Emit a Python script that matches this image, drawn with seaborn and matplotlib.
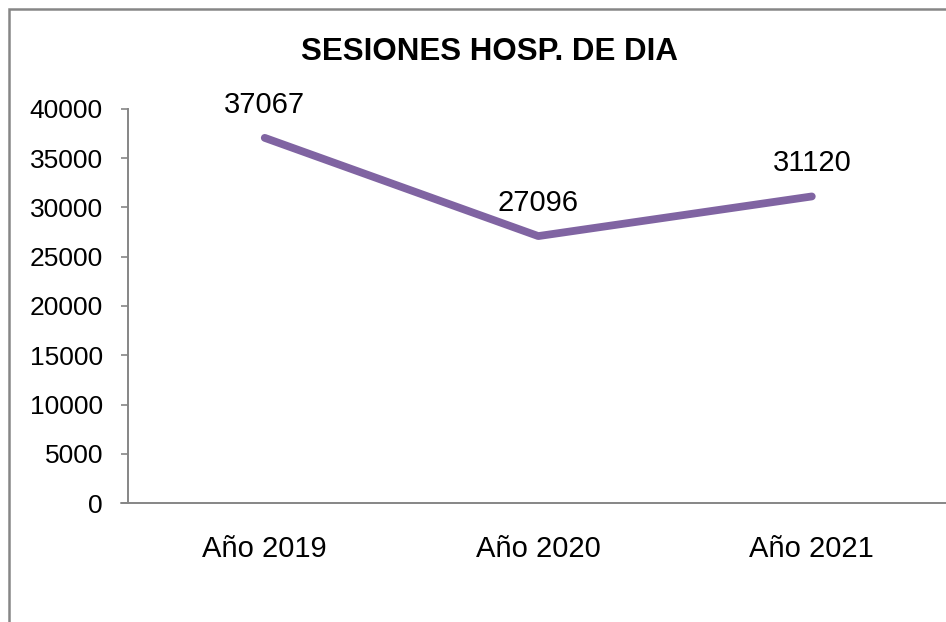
import pandas as pd
import matplotlib.pyplot as plt
import seaborn as sns
from matplotlib.patches import Rectangle

# Data
years = ['Año 2019', 'Año 2020', 'Año 2021']
sesiones = [37067, 27096, 31120]
y_ticks = [0, 5000, 10000, 15000, 20000, 25000, 30000, 35000, 40000]

df = pd.DataFrame({'Año': years, 'Sesiones': sesiones})

sns.set_theme(style="white")
plt.rcParams['font.family'] = ['Liberation Sans', 'DejaVu Sans']
plt.rcParams['text.color'] = 'black'
plt.rcParams['xtick.labelcolor'] = 'black'
plt.rcParams['ytick.labelcolor'] = 'black'

fig = plt.figure(figsize=(9.46, 6.22), dpi=100)
ax = fig.add_axes([0.1353, 0.1913, 0.8674, 0.6335])

sns.lineplot(data=df, x='Año', y='Sesiones', sort=False, ax=ax,
             color='#8064A2', linewidth=5.6, solid_capstyle='round')

for i, v in enumerate(sesiones):
    ax.annotate(str(v), (i, v), textcoords='offset points', xytext=(0, 24),
                ha='center', va='center', fontsize=21, color='black')

ax.set_xlim(-0.5, 2.5)
ax.set_ylim(0, 40000)
ax.set_yticks(y_ticks)
ax.set_xlabel('')
ax.set_ylabel('')
ax.tick_params(axis='y', length=5, width=1.2, color='#868686', pad=13,
               labelsize=19, left=True)
ax.tick_params(axis='x', length=0, pad=23, labelsize=21)

for s in ['top', 'right']:
    ax.spines[s].set_visible(False)
for s in ['left', 'bottom']:
    ax.spines[s].set_color('#868686')
    ax.spines[s].set_linewidth(1.4)

# extend the bottom axis line left to the tick end
ax.plot([-0.526, -0.5], [0, 0], color='#868686', linewidth=1.4,
        clip_on=False, transform=ax.transData)

fig.text(0.517, 0.917, 'SESIONES HOSP. DE DIA', ha='center', va='center',
         fontsize=22.5, fontweight='bold', color='black')

# chart frame
fig.patches.append(Rectangle((9 / 946, -0.1), 1.2, 1 - 9 / 622 + 0.1,
                             transform=fig.transFigure, fill=False,
                             edgecolor='#868686', linewidth=1.8))

fig.savefig('out.png', dpi=100)
